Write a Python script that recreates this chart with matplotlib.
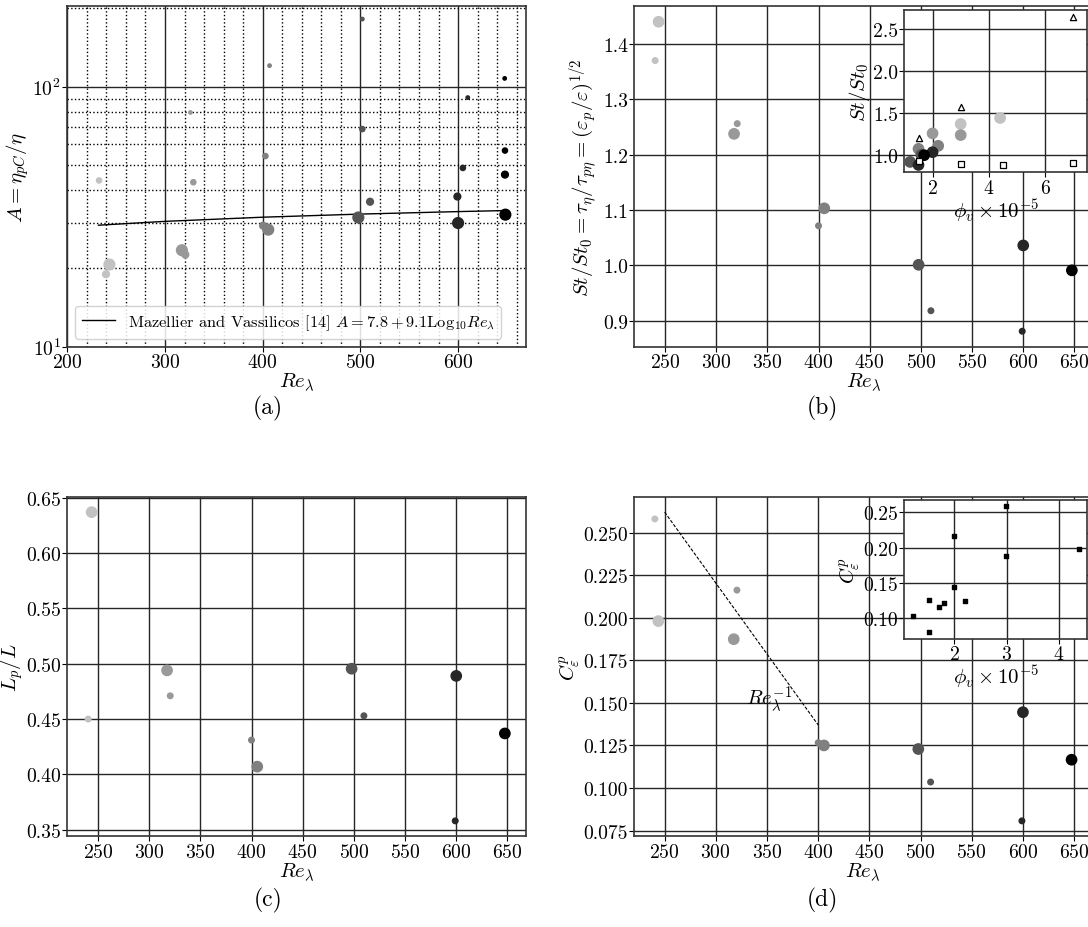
import matplotlib
matplotlib.use("Agg")
import matplotlib.pyplot as plt
import numpy as np

plt.rcParams["font.family"] = "serif"
plt.rcParams["font.serif"] = ["cmr10"]
plt.rcParams["mathtext.fontset"] = "cm"
plt.rcParams["axes.formatter.use_mathtext"] = True
plt.rcParams["axes.unicode_minus"] = False

# grey level of each Re_lambda group (240, 320, 400, 500, 600, 650)
GROUP_GREY = ["0.76", "0.6", "0.5", "0.33", "0.15", "0.0"]

# ---- panel (a): A = eta_pC / eta, four particle classes
a_re = [232.5, 239.6, 243.1,
        326.0, 329.0, 320.8, 317.3,
        407.0, 402.8, 400.4, 405.7,
        502.0, 502.0, 509.9, 497.9,
        609.9, 604.9, 599.3, 600.0,
        647.7, 648.0, 648.0, 648.4]
a_val = [43.6, 19.0, 20.7,
         79.6, 42.9, 22.6, 23.5,
         120.5, 54.1, 29.2, 28.2,
         182.0, 68.7, 36.1, 31.4,
         90.8, 48.7, 37.8, 29.9,
         107.6, 56.8, 45.9, 32.2]
a_group = [0, 0, 0,
           1, 1, 1, 1,
           2, 2, 2, 2,
           3, 3, 3, 3,
           4, 4, 4, 4,
           5, 5, 5, 5]
a_class = [1, 2, 3,
           0, 1, 2, 3,
           0, 1, 2, 3,
           0, 1, 2, 3,
           0, 1, 2, 3,
           0, 1, 2, 3]
CLASS_SIZE = [6, 14, 24, 60]
model_re = np.array([232.0, 300.0, 400.0, 500.0, 600.0, 648.0])

# ---- panels (b)-(d): two particle classes
re_big = [243.8, 317.5, 405.6, 497.8, 600.0, 647.5]
re_small = [240.4, 320.6, 400.0, 509.8, 599.0]
st_big = [1.440, 1.2375, 1.103, 1.001, 1.036, 0.991]
st_small = [1.370, 1.256, 1.0715, 0.918, 0.881]
lp_big = [0.637, 0.494, 0.407, 0.4955, 0.489, 0.437]
lp_small = [0.450, 0.471, 0.431, 0.453, 0.358]
cp_big = [0.198, 0.1874, 0.125, 0.1229, 0.1445, 0.1166]
cp_small = [0.258, 0.2162, 0.1266, 0.1035, 0.0807]
slope_re = [250.0, 400.0]
slope_cp = [0.262, 0.137]

# ---- inset (b): St/St0 against volume fraction
ins_b_phi = [4.40, 3.0, 3.0, 2.0, 1.5, 2.2, 1.6, 1.2, 2.0, 1.5, 1.7]
ins_b_st = [1.44, 1.368, 1.236, 1.256, 1.072, 1.108, 1.0, 0.916, 1.032, 0.88, 0.996]
ins_b_group = [0, 0, 1, 1, 2, 2, 3, 3, 4, 4, 5]
tri_phi = [1.5, 3.0, 7.0]
tri_st = [1.20, 1.568, 2.64]
sq_phi = [1.5, 3.0, 4.5, 7.0]
sq_st = [0.928, 0.896, 0.884, 0.908]

# ---- inset (d): C_eps^p against volume fraction
ins_d_phi = [1.204, 1.51, 1.51, 1.707, 1.80, 2.0, 2.0, 2.204, 2.994, 2.994, 4.38]
ins_d_cp = [0.1028, 0.1265, 0.0801, 0.1161, 0.1213, 0.2164, 0.1445, 0.1246,
            0.2585, 0.1876, 0.198]

TICK_FS = 14.2
LABEL_FS = 15

W, H = 1088, 928
fig = plt.figure(figsize=(W / 100, H / 100), dpi=100)


def px_axes(left, top, right, bottom):
    return fig.add_axes([left / W, 1 - bottom / H, (right - left) / W,
                         (bottom - top) / H])


def style(ax):
    ax.set_axisbelow(True)
    ax.grid(True, which="major", color="0.15", lw=1.0)
    ax.tick_params(labelsize=TICK_FS, width=0.8, length=3.5, pad=1)
    for s in ax.spines.values():
        s.set_color("0.2")
        s.set_linewidth(1.2)


def two_class(ax, yb, ys):
    ax.scatter(re_small, ys, s=16, c=[GROUP_GREY[i] for i in range(5)],
               zorder=3)
    ax.scatter(re_big, yb, s=55, c=GROUP_GREY, zorder=3)


# (a)
ax_a = px_axes(67.3, 7.3, 525.7, 347.7)
style(ax_a)
ax_a.set_yscale("log")
ax_a.grid(True, which="minor", color="k", ls=":", lw=1.0)
ax_a.set_xticks(np.arange(220, 670, 20), minor=True)
ax_a.set_xticks([200, 300, 400, 500, 600])
ax_a.tick_params(which="minor", length=0)
ax_a.scatter(a_re, a_val, s=[CLASS_SIZE[k] for k in a_class],
             c=[GROUP_GREY[g] for g in a_group], zorder=3)
ax_a.plot(model_re, 7.8 + 9.1 * np.log10(model_re), color="k", lw=1.0,
          label=r"Mazellier and Vassilicos [14] $A = 7.8 + 9.1\mathrm{Log}_{10}Re_{\lambda}$")
ax_a.set_xlim(left=200)
ax_a.set_ylim(bottom=10)
ax_a.set_xlabel(r"$Re_{\lambda}$", fontsize=LABEL_FS, labelpad=0)
ax_a.set_ylabel(r"$A = \eta_{pC}/\eta$", fontsize=LABEL_FS, labelpad=1)
ax_a.legend(loc="lower left", fontsize=11.8, framealpha=0.85,
            edgecolor="0.8")

# (b)
ax_b = px_axes(634.3, 7.3, 1092.7, 347.7)
style(ax_b)
two_class(ax_b, st_big, st_small)
ax_b.set_xticks(range(250, 651, 50))
ax_b.set_yticks([0.9, 1.0, 1.1, 1.2, 1.3, 1.4])
ax_b.set_yticklabels(["0.9", "1.0", "1.1", "1.2", "1.3", "1.4"])
ax_b.set_xlabel(r"$Re_{\lambda}$", fontsize=LABEL_FS, labelpad=0)
ax_b.set_ylabel(r"$St/St_0 = \tau_{\eta}/\tau_{p\eta} = (\varepsilon_p/\varepsilon)^{1/2}$",
                fontsize=LABEL_FS, labelpad=2)

ins_b = px_axes(904.3, 11, 1087.3, 173.3)
style(ins_b)
ins_b.scatter(ins_b_phi, ins_b_st, s=55,
              c=[GROUP_GREY[g] for g in ins_b_group], zorder=3)
ins_b.scatter(sq_phi, sq_st, marker="s", s=20, facecolor="white",
              edgecolor="k", lw=0.9, zorder=4)
ins_b.scatter(tri_phi, tri_st, marker="^", s=20, facecolor="white",
              edgecolor="k", lw=0.9, zorder=4)
ins_b.set_xlim(0.995, 7.5)
ins_b.set_xticks([2, 4, 6])
ins_b.set_yticks([1.0, 1.5, 2.0, 2.5])
ins_b.set_yticklabels(["1.0", "1.5", "2.0", "2.5"])
ins_b.set_xlabel(r"$\phi_v \times 10^{-5}$", fontsize=LABEL_FS, labelpad=0)
ins_b.set_ylabel(r"$St/St_0$", fontsize=LABEL_FS, labelpad=1)

# (c)
ax_c = px_axes(67.3, 497.7, 525.7, 837.3)
style(ax_c)
two_class(ax_c, lp_big, lp_small)
ax_c.set_xticks(range(250, 651, 50))
ax_c.set_yticks([0.35, 0.40, 0.45, 0.50, 0.55, 0.60, 0.65])
ax_c.set_yticklabels(["0.35", "0.40", "0.45", "0.50", "0.55", "0.60", "0.65"])
ax_c.set_xlabel(r"$Re_{\lambda}$", fontsize=LABEL_FS, labelpad=0)
ax_c.set_ylabel(r"$L_p/L$", fontsize=LABEL_FS, labelpad=1)

# (d)
ax_d = px_axes(634.0, 497.7, 1092.4, 837.3)
style(ax_d)
two_class(ax_d, cp_big, cp_small)
ax_d.plot(slope_re, slope_cp, color="k", ls="--", lw=0.8, dashes=(3, 1.5))
ax_d.text(329, 0.149, r"$Re_{\lambda}^{-1}$", fontsize=LABEL_FS)
ax_d.set_xticks(range(250, 651, 50))
ax_d.set_yticks([0.075, 0.100, 0.125, 0.150, 0.175, 0.200, 0.225, 0.250])
ax_d.set_yticklabels(["0.075", "0.100", "0.125", "0.150", "0.175", "0.200",
                      "0.225", "0.250"])
ax_d.set_xlabel(r"$Re_{\lambda}$", fontsize=LABEL_FS, labelpad=0)
ax_d.set_ylabel(r"$C_{\varepsilon}^{p}$", fontsize=LABEL_FS, labelpad=1)

ins_d = px_axes(904.3, 501, 1087.3, 639.7)
style(ins_d)
ins_d.scatter(ins_d_phi, ins_d_cp, marker="s", s=12, color="k", zorder=3)
ins_d.set_xticks([2, 3, 4])
ins_d.set_yticks([0.10, 0.15, 0.20, 0.25])
ins_d.set_yticklabels(["0.10", "0.15", "0.20", "0.25"])
ins_d.set_xlabel(r"$\phi_v \times 10^{-5}$", fontsize=LABEL_FS, labelpad=0)
ins_d.set_ylabel(r"$C_{\varepsilon}^{p}$", fontsize=LABEL_FS, labelpad=1)

for x, y, lab in [(268, 408, "(a)"), (822, 408, "(b)"),
                  (268, 900, "(c)"), (822, 900, "(d)")]:
    fig.text(x / W, 1 - y / H, lab, fontsize=17, ha="center", va="center")

fig.savefig("out.png", dpi=100)
